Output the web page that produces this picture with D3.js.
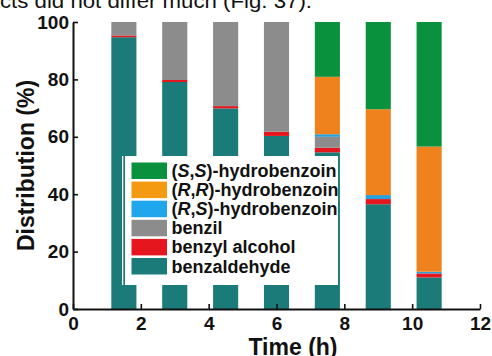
<!DOCTYPE html>
<html>
<head>
<meta charset="utf-8">
<script src="https://cdn.jsdelivr.net/npm/d3@7"></script>
<style>
  body { margin: 0; background: #fff; }
  svg { display: block; }
  text { font-family: "Liberation Sans", Arial, sans-serif; }
</style>
</head>
<body>
<div id="viz"></div>
<script>
var times = [1.5, 3, 4.5, 6, 7.5, 9, 10.5];
var benzaldehyde = [94.7, 79.1, 69.9, 60.3, 54.6, 36.5, 11.0];
var benzylAlcohol = [0.6, 0.7, 0.8, 1.5, 1.6, 1.8, 1.4];
var benzil = [4.7, 20.2, 29.3, 38.2, 3.8, 0, 0];
var rsHydro = [0, 0, 0, 0, 0.9, 1.4, 0.6];
var rrHydro = [0, 0, 0, 0, 20.0, 29.9, 43.6];
var ssHydro = [0, 0, 0, 0, 19.1, 30.4, 43.4];
var xTicks = [0, 2, 4, 6, 8, 10, 12];
var yTicks = [0, 20, 40, 60, 80, 100];

var series = [
  { key: "benzaldehyde", values: benzaldehyde, color: "#1b7b79" },
  { key: "benzylAlcohol", values: benzylAlcohol, color: "#e5161e" },
  { key: "benzil", values: benzil, color: "#8c8c8c" },
  { key: "rs", values: rsHydro, color: "#2a9fdc" },
  { key: "rr", values: rrHydro, color: "#f0821e" },
  { key: "ss", values: ssHydro, color: "#0a913d" }
];

// legend rows, top to bottom
var legendRows = [
  { parts: [["(", false], ["S", true], [",", false], ["S", true], [")-hydrobenzoin", false]], color: "#0a913d" },
  { parts: [["(", false], ["R", true], [",", false], ["R", true], [")-hydrobenzoin", false]], color: "#f39a12" },
  { parts: [["(", false], ["R", true], [",", false], ["S", true], [")-hydrobenzoin", false]], color: "#1fa6ec" },
  { parts: [["benzil", false]], color: "#8c8c8c" },
  { parts: [["benzyl alcohol", false]], color: "#e5161e" },
  { parts: [["benzaldehyde", false]], color: "#1b7b79" }
];

var width = 492, height = 356;

var svg = d3.select('#viz').append('svg')
  .attr('width', width)
  .attr('height', height);

// text cut off from the page above
svg.append('text')
  .attr('x', 0)
  .attr('y', 7.5)
  .attr('font-family', '"Open Sans", sans-serif')
  .attr('font-size', 20)
  .attr('textLength', 312)
  .attr('lengthAdjust', 'spacingAndGlyphs')
  .attr('fill', '#111')
  .text('cts did not differ much (Fig. 37).');

var xScale = d3.scaleLinear().domain([0, 12]).range([73, 480]);
var yScale = d3.scaleLinear().domain([0, 100]).range([309, 22]);
var barW = xScale(0.74) - xScale(0);

var rows = times.map(function(t, i) {
  var r = { time: t };
  series.forEach(function(s) { r[s.key] = s.values[i]; });
  return r;
});

var stack = d3.stack().keys(series.map(function(s) { return s.key; }));
var layers = stack(rows);

svg.append('g').selectAll('g')
  .data(layers)
  .enter().append('g')
    .attr('fill', function(d, i) { return series[i].color; })
  .selectAll('rect')
  .data(function(d) { return d; })
  .enter().append('rect')
    .attr('x', function(d) { return xScale(d.data.time) - barW / 2; })
    .attr('width', barW)
    .attr('y', function(d) { return yScale(d[1]); })
    .attr('height', function(d) { return yScale(d[0]) - yScale(d[1]); });

// legend box
var legend = svg.append('g');
legend.append('rect')
  .attr('x', 122).attr('y', 156)
  .attr('width', 1.3).attr('height', 129)
  .attr('fill', '#fff');
legend.append('rect')
  .attr('x', 125).attr('y', 156)
  .attr('width', 213).attr('height', 129)
  .attr('fill', '#fff');

var item = legend.selectAll('g.item')
  .data(legendRows)
  .enter().append('g')
    .attr('class', 'item')
    .attr('transform', function(d, i) { return 'translate(131.5,' + (162.5 + i * 19.1) + ')'; });

item.append('rect')
  .attr('width', 35.5)
  .attr('height', 16.5)
  .attr('fill', function(d) { return d.color; });

item.append('text')
  .attr('x', 40)
  .attr('y', 14.5)
  .attr('font-size', 18)
  .attr('font-weight', 'bold')
  .attr('fill', '#111')
  .selectAll('tspan')
  .data(function(d) { return d.parts; })
  .enter().append('tspan')
    .attr('font-style', function(p) { return p[1] ? 'italic' : 'normal'; })
    .text(function(p) { return p[0]; });

// axes
var xAxis = d3.axisBottom(xScale).tickValues(xTicks).tickSizeInner(-5).tickSizeOuter(0).tickPadding(8);
var yAxis = d3.axisLeft(yScale).tickValues(yTicks).tickSizeInner(-5).tickSizeOuter(0).tickPadding(4);

var xGuide = svg.append('g')
  .attr('transform', 'translate(0,' + yScale(0) + ')')
  .call(xAxis);
var yGuide = svg.append('g')
  .attr('transform', 'translate(' + xScale(0) + ',0)')
  .call(yAxis);

[xGuide, yGuide].forEach(function(g) {
  g.select('.domain').attr('stroke', '#111').attr('stroke-width', 2);
  g.selectAll('.tick line').attr('stroke', '#111').attr('stroke-width', 1.6);
  g.selectAll('.tick text')
    .attr('fill', '#111')
    .style('font-family', '"Liberation Sans", Arial, sans-serif')
    .style('font-size', '19px')
    .style('font-weight', 'bold');
});
xGuide.selectAll('.tick line').attr('y2', -5);

svg.append('text')
  .attr('transform', 'translate(34,' + ((yScale(0) + yScale(100)) / 2) + ') rotate(-90)')
  .attr('text-anchor', 'middle')
  .attr('font-size', 23)
  .attr('font-weight', 'bold')
  .attr('fill', '#111')
  .text('Distribution (%)');

svg.append('text')
  .attr('x', 293)
  .attr('y', 355)
  .attr('text-anchor', 'middle')
  .attr('font-size', 23)
  .attr('font-weight', 'bold')
  .attr('fill', '#111')
  .text('Time (h)');
</script>
</body>
</html>
